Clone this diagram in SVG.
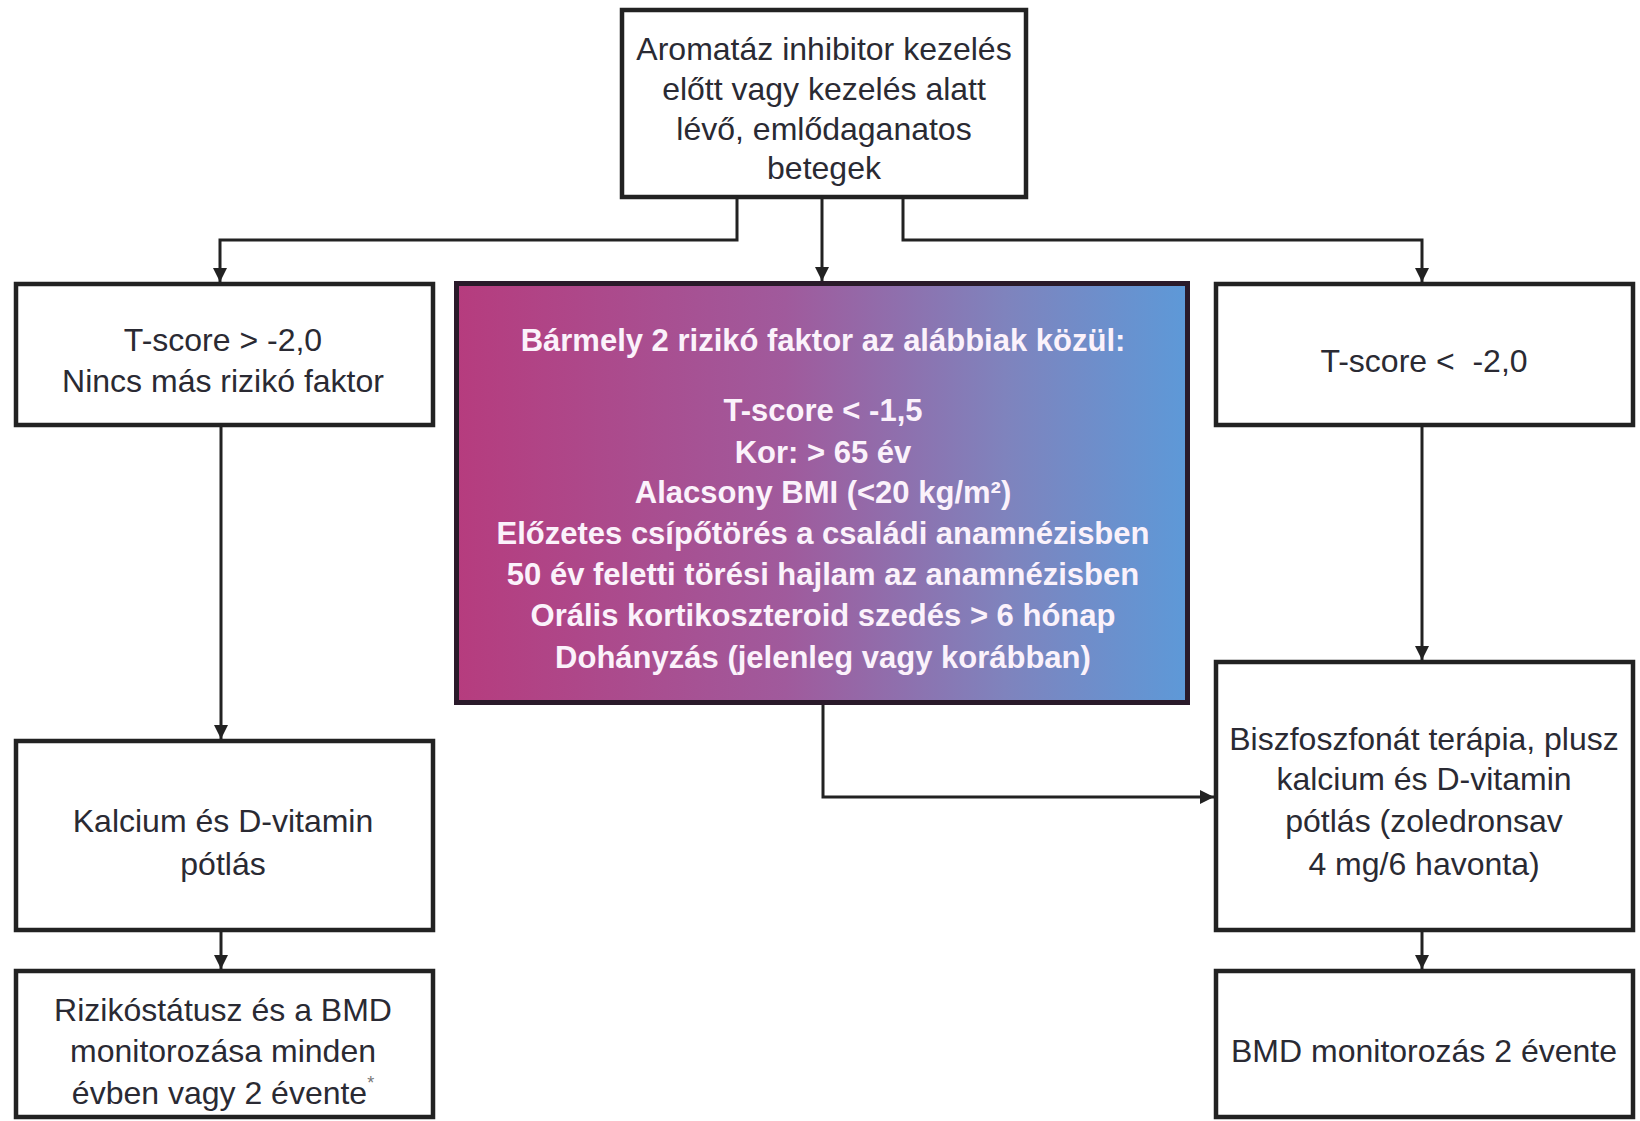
<svg xmlns="http://www.w3.org/2000/svg" width="1640" height="1121" viewBox="0 0 1640 1121">
<style>
.box{fill:#ffffff;stroke:#222222;stroke-width:4.5}
.t{font-family:"Liberation Sans",Arial,sans-serif;font-size:32px;fill:#2a2a33;text-anchor:middle}
.w{font-family:"Liberation Sans",Arial,sans-serif;font-size:31px;font-weight:bold;fill:#fbf2fb;text-anchor:middle}
.c{fill:none;stroke:#222222;stroke-width:3}
</style>
<defs>
<linearGradient id="g" x1="0" y1="0" x2="1" y2="0">
<stop offset="0" stop-color="#b63c7e"/>
<stop offset="0.45" stop-color="#a05a9c"/>
<stop offset="0.75" stop-color="#7f83bd"/>
<stop offset="1" stop-color="#5d99d8"/>
</linearGradient>
<marker id="ah" viewBox="0 0 12 12" refX="12" refY="6" markerWidth="15" markerHeight="14" markerUnits="userSpaceOnUse" orient="auto">
<path d="M0,0 L12,6 L0,12 z" fill="#222222"/>
</marker>
</defs>
<rect width="1640" height="1121" fill="#ffffff"/>

<g id="connectors">
<path class="c" d="M737,199 V240 H220 V282" marker-end="url(#ah)"/>
<path class="c" d="M822,199 V281" marker-end="url(#ah)"/>
<path class="c" d="M903,199 V240 H1422 V282" marker-end="url(#ah)"/>
<path class="c" d="M221,427 V739" marker-end="url(#ah)"/>
<path class="c" d="M221,932 V969" marker-end="url(#ah)"/>
<path class="c" d="M1422,427 V660" marker-end="url(#ah)"/>
<path class="c" d="M1422,932 V969" marker-end="url(#ah)"/>
<path class="c" d="M823,705 V797 H1214" marker-end="url(#ah)"/>
</g>

<g id="start">
<rect class="box" x="622" y="10" width="404" height="187"/>
<text class="t" x="824" y="60">Aromatáz inhibitor kezelés</text>
<text class="t" x="824" y="100">előtt vagy kezelés alatt</text>
<text class="t" x="824" y="140">lévő, emlődaganatos</text>
<text class="t" x="824" y="179">betegek</text>
</g>

<g id="left1">
<rect class="box" x="16" y="284" width="417" height="141"/>
<text class="t" x="223" y="351">T-score &gt; -2,0</text>
<text class="t" x="223" y="392">Nincs más rizikó faktor</text>
</g>

<g id="center">
<rect x="456.5" y="283.5" width="731" height="419" fill="url(#g)" stroke="#2a1a2a" stroke-width="5"/>
<text class="w" x="823" y="351">Bármely 2 rizikó faktor az alábbiak közül:</text>
<text class="w" x="823" y="421">T-score &lt; -1,5</text>
<text class="w" x="823" y="463">Kor: &gt; 65 év</text>
<text class="w" x="823" y="503">Alacsony BMI (&lt;20 kg/m²)</text>
<text class="w" x="823" y="544">Előzetes csípőtörés a családi anamnézisben</text>
<text class="w" x="823" y="585">50 év feletti törési hajlam az anamnézisben</text>
<text class="w" x="823" y="626">Orális kortikoszteroid szedés &gt; 6 hónap</text>
<text class="w" x="823" y="668">Dohányzás (jelenleg vagy korábban)</text>
</g>

<g id="right1">
<rect class="box" x="1216" y="284" width="417" height="141"/>
<text class="t" x="1424" y="372" xml:space="preserve">T-score &lt;  -2,0</text>
</g>

<g id="left2">
<rect class="box" x="16" y="741" width="417" height="189"/>
<text class="t" x="223" y="832">Kalcium és D-vitamin</text>
<text class="t" x="223" y="875">pótlás</text>
</g>

<g id="left3">
<rect class="box" x="16" y="971" width="417" height="146"/>
<text class="t" x="223" y="1021">Rizikóstátusz és a BMD</text>
<text class="t" x="223" y="1062">monitorozása minden</text>
<text class="t" x="223" y="1104">évben vagy 2 évente<tspan font-size="18" dy="-15" fill="#777777">*</tspan></text>
</g>

<g id="right2">
<rect class="box" x="1216" y="662" width="417" height="268"/>
<text class="t" x="1424" y="750">Biszfoszfonát terápia, plusz</text>
<text class="t" x="1424" y="790">kalcium és D-vitamin</text>
<text class="t" x="1424" y="832">pótlás (zoledronsav</text>
<text class="t" x="1424" y="875">4 mg/6 havonta)</text>
</g>

<g id="right3">
<rect class="box" x="1216" y="971" width="417" height="146"/>
<text class="t" x="1424" y="1062">BMD monitorozás 2 évente</text>
</g>
</svg>
